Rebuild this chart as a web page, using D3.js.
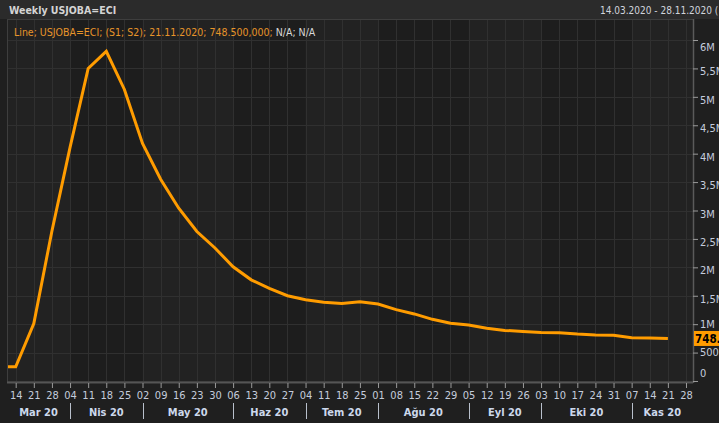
<!DOCTYPE html>
<html><head><meta charset="utf-8">
<script src="https://cdn.jsdelivr.net/npm/d3@7"></script>
<style>
html,body{margin:0;padding:0;background:#1f1f1f;overflow:hidden;}
svg{display:block;}
text{font-family:"DejaVu Sans Condensed","Liberation Sans Narrow",sans-serif;}
</style></head>
<body>
<svg id="c" width="719" height="423"></svg>
<script>
// ---- data ----
const dates = ["2020-03-07","2020-03-14","2020-03-21","2020-03-28","2020-04-04","2020-04-11","2020-04-18","2020-04-25",
  "2020-05-02","2020-05-09","2020-05-16","2020-05-23","2020-05-30","2020-06-06","2020-06-13","2020-06-20","2020-06-27",
  "2020-07-04","2020-07-11","2020-07-18","2020-07-25","2020-08-01","2020-08-08","2020-08-15","2020-08-22","2020-08-29",
  "2020-09-05","2020-09-12","2020-09-19","2020-09-26","2020-10-03","2020-10-10","2020-10-17","2020-10-24","2020-10-31",
  "2020-11-07","2020-11-14","2020-11-21"];
const claims = [250000,250000,1010000,2640000,4110000,5500000,5800000,5130000,
  4180000,3550000,3040000,2630000,2340000,2010000,1780000,1630000,1500000,
  1430000,1385000,1365000,1395000,1355000,1255000,1180000,1085000,1015000,
  985000,930000,890000,870000,855000,850000,825000,810000,805000,
  762000,755000,748500];
const yTickValues = [0,500000,1000000,1500000,2000000,2500000,3000000,3500000,4000000,4500000,5000000,5500000,6000000];
const yTickLabels = ["0","500.000","1M","1,5M","2M","2,5M","3M","3,5M","4M","4,5M","5M","5,5M","6M"];
const monthLabels = ["Mar 20","Nis 20","May 20","Haz 20","Tem 20","Ağu 20","Eyl 20","Eki 20","Kas 20"];
const title = "Weekly USJOBA=ECI";
const subtitleMain = "Line; USJOBA=ECI; (S1; S2); 21.11.2020; 748.500,000; ";
const subtitleTail = "N/A; N/A";
const dateRange = "14.03.2020 - 28.11.2020 (";
const lastLabel = "748.500";
const domainStart = "2020-03-14", domainEnd = "2020-11-28";

// ---- layout ----
const W = 719, H = 423;
const L = 7, R = 693, T = 19, B = 383;
const FONT = '"DejaVu Sans Condensed","Liberation Sans Narrow",sans-serif';
const parse = d3.utcParse("%Y-%m-%d");
const data = dates.map((d,i)=>({date:parse(d), v:claims[i]}));

const x = d3.scaleUtc().domain([parse(domainStart), parse(domainEnd)]).range([15.7, 686]);
const y = d3.scaleLinear().domain([0, 6000000]).range([381, 40]);

const svg = d3.select("#c");
svg.append("rect").attr("width",W).attr("height",H).attr("fill","#1f1f1f");
svg.append("rect").attr("x",0).attr("y",0).attr("width",W).attr("height",T).attr("fill","#2b2b2b");

const weeks = d3.utcSaturday.range(parse(domainStart), d3.utcDay.offset(parse(domainEnd),1));
const firsts = weeks.filter((d,i)=> i>0 && d.getUTCMonth() !== weeks[i-1].getUTCMonth());
const bounds = [L, ...firsts.map(d=>x(d)), R];

// month bands
const g = svg.append("g");
g.append("rect").attr("x",L).attr("y",T).attr("width",R-L).attr("height",B-T).attr("fill","#1d1d1d");
for (let i=0;i<bounds.length-1;i++){
  if (i%2===0) g.append("rect").attr("x",bounds[i]).attr("y",T).attr("width",bounds[i+1]-bounds[i]).attr("height",B-T).attr("fill","#222222");
}
// gridlines
g.selectAll("line.vg").data(weeks).join("line").attr("class","vg")
  .attr("x1",d=>Math.round(x(d))+0.5).attr("x2",d=>Math.round(x(d))+0.5).attr("y1",T).attr("y2",B)
  .attr("stroke","#303030").attr("stroke-width",1);
g.selectAll("line.hg").data(yTickValues).join("line").attr("class","hg")
  .attr("x1",L).attr("x2",R).attr("y1",d=>Math.round(y(d))+0.5).attr("y2",d=>Math.round(y(d))+0.5)
  .attr("stroke","#303030").attr("stroke-width",1);

// plot border
svg.append("line").attr("x1",L).attr("x2",R).attr("y1",T+0.5).attr("y2",T+0.5).attr("stroke","#3e3e3e");
svg.append("line").attr("x1",L+0.5).attr("x2",L+0.5).attr("y1",T).attr("y2",B).attr("stroke","#3e3e3e");
svg.append("line").attr("x1",L).attr("x2",R).attr("y1",B-0.5).attr("y2",B-0.5).attr("stroke","#555555").attr("stroke-width",2);
svg.append("line").attr("x1",R+0.5).attr("x2",R+0.5).attr("y1",T).attr("y2",B).attr("stroke","#5a5a5a").attr("stroke-width",1.5);

// subtitle
const st = svg.append("text").attr("x",14).attr("y",36).attr("font-size",10.5);
st.append("tspan").attr("fill","#e8952a").text(subtitleMain);
st.append("tspan").attr("fill","#d8d8d8").text(subtitleTail);

// line
svg.append("clipPath").attr("id","clip").append("rect").attr("x",L+1).attr("y",T).attr("width",R-L-1).attr("height",B-T);
svg.append("path").datum(data).attr("clip-path","url(#clip)")
  .attr("d", d3.line().x(d=>x(d.date)).y(d=>y(d.v)))
  .attr("fill","none").attr("stroke","#ff9c00").attr("stroke-width",3).attr("stroke-linejoin","miter");

// x axis
const xa = svg.append("g").attr("transform",`translate(0,${B})`)
  .call(d3.axisBottom(x).tickValues(weeks).tickFormat(d3.utcFormat("%d")).tickSize(5).tickPadding(3));
xa.select(".domain").remove();
xa.selectAll(".tick line").attr("stroke","#9a9a9a");
xa.selectAll(".tick text").attr("fill","#c4ccdc").attr("font-size",11).attr("font-family",FONT);

// month separators and labels
svg.selectAll("line.ms").data(firsts).join("line").attr("class","ms")
  .attr("x1",d=>Math.round(x(d))+0.5).attr("x2",d=>Math.round(x(d))+0.5).attr("y1",403).attr("y2",419)
  .attr("stroke","#b8c0cc").attr("stroke-width",1);
svg.selectAll("text.ml").data(monthLabels).join("text").attr("class","ml")
  .attr("x",(d,i)=>(bounds[i]+bounds[i+1])/2).attr("y",416).attr("text-anchor","middle")
  .attr("font-size",11).attr("font-weight","bold").attr("fill","#ccd8ec").text(d=>d);

// y axis
const ya = svg.append("g").attr("transform",`translate(${R},0)`)
  .call(d3.axisRight(y).tickValues(yTickValues).tickFormat((d,i)=>yTickLabels[i]).tickSize(5).tickPadding(2));
ya.select(".domain").remove();
ya.selectAll(".tick line").attr("stroke","#9a9a9a");
const nudge = v => v===6000000 ? 7 : v===0 ? -8 : v===500000 ? -1 : v===1000000 ? 0 : 3;
ya.selectAll(".tick text").attr("fill","#c4ccdc").attr("font-size",11).attr("font-family",FONT)
  .attr("transform",d=>`translate(0,${nudge(d)})`);

// last value box
const last = data[data.length-1];
svg.append("rect").attr("x",R+1).attr("y",y(last.v)-7.5).attr("width",W-R).attr("height",15).attr("fill","#ff9c00");
svg.append("text").attr("x",R+2).attr("y",y(last.v)+4.5).attr("font-size",11.5).attr("font-weight","bold")
  .attr("fill","#000").text(lastLabel);

// header texts
svg.append("text").attr("x",9).attr("y",14).attr("font-size",10.5).attr("font-weight","bold").attr("fill","#d4d4d4").text(title);
svg.append("text").attr("x",600).attr("y",14).attr("font-size",10).attr("fill","#d0d4dc").text(dateRange);
</script>
</body></html>
